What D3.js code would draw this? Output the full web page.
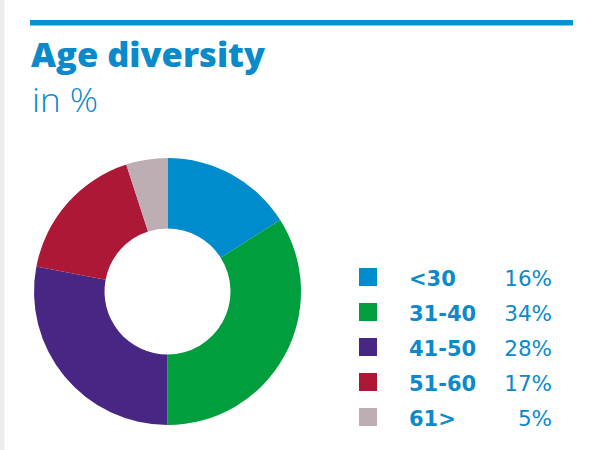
<!DOCTYPE html>
<html><head><meta charset="utf-8">
<script src="https://cdn.jsdelivr.net/npm/d3@7"></script>
<style>
html,body{margin:0;padding:0;background:#fff;}
svg{display:block;}
</style></head>
<body>
<script>
const categories = ["<30", "31-40", "41-50", "51-60", "61>"];
const values = [16, 34, 28, 17, 5];
const valueLabels = ["16%", "34%", "28%", "17%", "5%"];
const colors = ["#008ccc", "#009e3d", "#482683", "#ad1836", "#bcaeb2"];
const title = "Age diversity";
const subtitle = "in %";

const W = 592, H = 450;
const blue = "#0a8acb";
const fontA = "'Open Sans', sans-serif";
const fontB = "'DejaVu Sans', sans-serif";
const svg = d3.select("body").append("svg").attr("width", W).attr("height", H);

svg.append("rect").attr("x", 0).attr("y", 0).attr("width", 4.5).attr("height", H).attr("fill", "#eeecec");
svg.append("rect").attr("x", 30).attr("y", 20).attr("width", 543).attr("height", 5.5).attr("fill", "#0a8fd0");

function stretch(sel, w) {
  sel.attr("textLength", w).attr("lengthAdjust", "spacingAndGlyphs");
}
svg.append("text").attr("x", 31).attr("y", 67).text(title)
  .attr("font-family", fontA).attr("font-weight", 800).attr("font-size", 33.5).attr("fill", blue)
  .call(stretch, 234);
svg.append("text").attr("x", 32).attr("y", 111.5).text(subtitle)
  .attr("font-family", fontA).attr("font-weight", 300).attr("font-size", 33.5).attr("fill", blue)
  .call(stretch, 66);

const cx = 167.5, cy = 291.5, rO = 133.5, rI = 63;
const pie = d3.pie().sort(null).value(d => d)(values);
const arc = d3.arc().innerRadius(rI).outerRadius(rO);
const color = d3.scaleOrdinal().domain(categories).range(colors);
svg.append("g").attr("transform", `translate(${cx},${cy})`)
  .selectAll("path").data(pie).join("path")
  .attr("d", arc).attr("fill", (d, i) => color(categories[i]));

const y = d3.scaleBand().domain(categories).range([268, 268 + 35 * 5]);
const lg = svg.append("g");
const rows = lg.selectAll("g").data(categories).join("g")
  .attr("transform", d => `translate(0,${y(d)})`);
rows.append("rect").attr("x", 359).attr("y", 0).attr("width", 18).attr("height", 18)
  .attr("fill", d => color(d));
rows.append("text").attr("x", 409).attr("y", 17.5).text(d => d)
  .attr("font-family", fontB).attr("font-weight", 700).attr("font-size", 21).attr("fill", blue);
rows.append("text").attr("x", 552).attr("y", 17.5).attr("text-anchor", "end")
  .text((d, i) => valueLabels[i])
  .attr("font-family", fontB).attr("font-weight", 400).attr("font-size", 21.5).attr("fill", blue);
</script>
</body></html>
